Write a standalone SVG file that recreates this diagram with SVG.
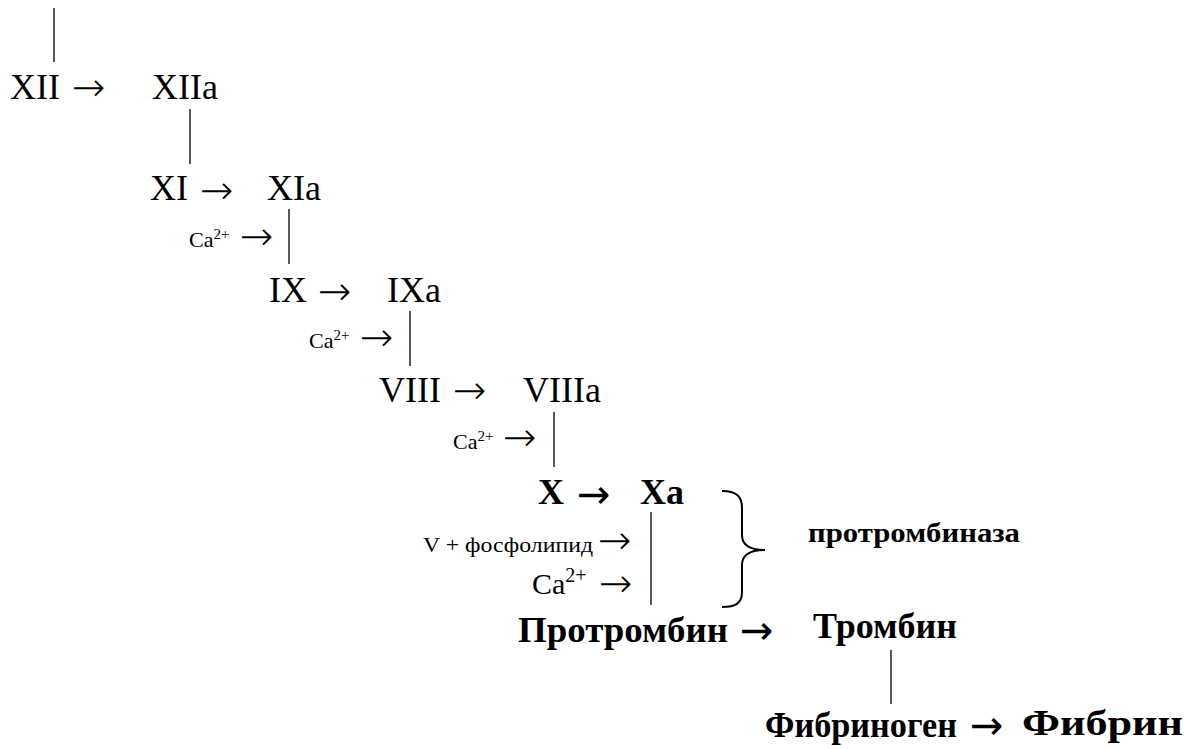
<svg xmlns="http://www.w3.org/2000/svg" width="1185" height="749" viewBox="0 0 1185 749">
<style>
text{font-family:"Liberation Serif","Times New Roman",serif;fill:#000}
.n{font-size:36px}
.b{font-size:36px;font-weight:bold}
.s{font-size:22px}
.sup{font-size:15px}
text.arr{font-family:"DejaVu Sans",sans-serif;font-size:40px;font-weight:200}
text.arrb{font-family:"DejaVu Sans",sans-serif;font-size:40px;font-weight:normal}
.line{stroke:#000;stroke-width:1.3;fill:none}
.brace{stroke:#000;stroke-width:2;fill:none}
</style>
<rect width="1185" height="749" fill="#fff"/>
<g id="connectors">
<line class="line" x1="54" y1="8" x2="54" y2="62"/>
<line class="line" x1="190" y1="109" x2="190" y2="164"/>
<line class="line" x1="289" y1="209" x2="289" y2="264"/>
<line class="line" x1="410" y1="311" x2="410" y2="366"/>
<line class="line" x1="554" y1="412" x2="554" y2="467"/>
<line class="line" x1="651" y1="512" x2="651" y2="605"/>
<line class="line" x1="891" y1="650" x2="891" y2="704"/>
<path class="brace" d="M722,491 C736,491 742,496 742,508 L742,535 C742,545 750,550 765,550 C750,550 742,555 742,565 L742,592 C742,603 736,607 722,607"/>
<text class="arr" x="72" y="101">→</text>
<text class="arr" x="200" y="204">→</text>
<text class="arr" x="240" y="250">→</text>
<text class="arr" x="318" y="305">→</text>
<text class="arr" x="360" y="351">→</text>
<text class="arr" x="453" y="404">→</text>
<text class="arr" x="503" y="451">→</text>
<text class="arrb" x="577" y="508">→</text>
<text class="arr" x="598" y="554">→</text>
<text class="arr" x="599" y="597">→</text>
<text class="arrb" x="740" y="644">→</text>
<text class="arrb" x="970" y="739">→</text>
</g>
<g id="n-XII"><text class="n" x="10" y="99">XII</text></g>
<g id="n-XIIa"><text class="n" x="152" y="99">XIIa</text></g>
<g id="n-XI"><text class="n" x="150" y="200">XI</text></g>
<g id="n-XIa"><text class="n" x="267" y="200">XIa</text></g>
<g id="n-ca1"><text class="s" x="189" y="247">Ca<tspan class="sup" dy="-8">2+</tspan></text></g>
<g id="n-IX"><text class="n" x="269" y="302">IX</text></g>
<g id="n-IXa"><text class="n" x="387" y="302">IXa</text></g>
<g id="n-ca2"><text class="s" x="309" y="348">Ca<tspan class="sup" dy="-8">2+</tspan></text></g>
<g id="n-VIII"><text class="n" x="379" y="402">VIII</text></g>
<g id="n-VIIIa"><text class="n" x="523" y="402">VIIIa</text></g>
<g id="n-ca3"><text class="s" x="453" y="449">Ca<tspan class="sup" dy="-8">2+</tspan></text></g>
<g id="n-X"><text class="b" x="538" y="504">X</text></g>
<g id="n-Xa"><text class="b" x="640" y="504">Xa</text></g>
<g id="n-V"><text class="s" x="423" y="552" textLength="170" lengthAdjust="spacingAndGlyphs">V + фосфолипид</text></g>
<g id="n-ca4"><text x="532" y="594" font-size="30">Ca<tspan font-size="20" dy="-12">2+</tspan></text></g>
<g id="n-prothrombinase"><text x="808" y="542" font-size="27" font-weight="bold" textLength="212" lengthAdjust="spacingAndGlyphs">протромбиназа</text></g>
<g id="n-prothrombin"><text class="b" x="518" y="642" textLength="210" lengthAdjust="spacingAndGlyphs">Протромбин</text></g>
<g id="n-thrombin"><text class="b" x="813" y="638" textLength="144" lengthAdjust="spacingAndGlyphs">Тромбин</text></g>
<g id="n-fibrinogen"><text class="b" x="765" y="737" textLength="192" lengthAdjust="spacingAndGlyphs">Фибриноген</text></g>
<g id="n-fibrin"><text class="b" x="1022" y="735" textLength="161" lengthAdjust="spacingAndGlyphs">Фибрин</text></g>
</svg>
